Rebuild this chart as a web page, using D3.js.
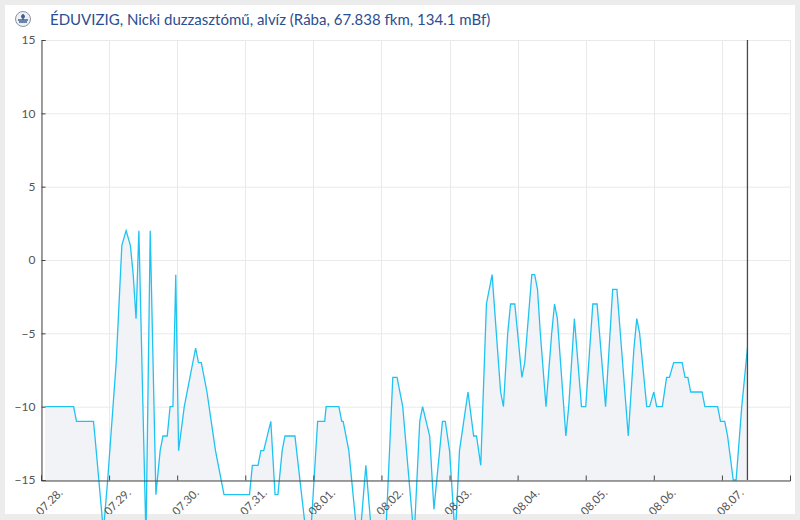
<!DOCTYPE html>
<html>
  <head>
    <meta charset="utf-8">
    <title>Nicki duzzasztómű, alvíz</title>
    <script src="https://cdn.jsdelivr.net/npm/d3@7"></script>
    <style>
      body { margin: 0; background: #ececec; font-family: Lato, "Open Sans", sans-serif; }
      svg { display: block; }
    </style>
  </head>

  <body>
    <svg id="chart"></svg>

    <script>
      // water level readings (cm)
      var times = [
        "07.28. 01:30", "07.28. 11:30", "07.28. 12:30", "07.28. 18:30", "07.28. 19:00", "07.28. 22:00", "07.28. 23:30",
        "07.29. 02:30", "07.29. 04:30", "07.29. 06:00", "07.29. 07:30", "07.29. 08:30", "07.29. 09:30", "07.29. 10:30",
        "07.29. 13:00", "07.29. 14:30", "07.29. 16:30", "07.29. 18:00", "07.29. 19:00", "07.29. 20:30", "07.29. 21:30",
        "07.29. 22:30", "07.29. 23:30",
        "07.30. 00:30", "07.30. 02:30", "07.30. 04:30", "07.30. 06:30", "07.30. 07:30", "07.30. 08:30", "07.30. 10:30",
        "07.30. 12:00", "07.30. 13:30", "07.30. 15:00", "07.30. 16:30",
        "07.31. 01:30", "07.31. 02:30", "07.31. 04:30", "07.31. 05:30", "07.31. 06:30", "07.31. 09:00", "07.31. 10:30",
        "07.31. 11:30", "07.31. 13:00", "07.31. 14:00", "07.31. 17:30", "07.31. 22:30",
        "08.01. 01:30", "08.01. 04:00", "08.01. 04:30", "08.01. 09:00", "08.01. 10:00", "08.01. 10:30", "08.01. 12:30",
        "08.01. 16:00", "08.01. 18:30", "08.01. 21:30",
        "08.02. 01:00", "08.02. 04:00", "08.02. 05:30", "08.02. 07:30", "08.02. 11:30", "08.02. 13:30", "08.02. 14:30",
        "08.02. 17:00", "08.02. 18:30", "08.02. 21:30", "08.02. 22:30",
        "08.03. 00:00", "08.03. 02:00", "08.03. 03:30", "08.03. 05:00", "08.03. 06:30", "08.03. 08:30", "08.03. 09:30",
        "08.03. 11:00", "08.03. 13:00", "08.03. 15:00", "08.03. 16:30", "08.03. 18:00", "08.03. 19:00", "08.03. 20:30",
        "08.03. 21:30", "08.03. 23:00",
        "08.04. 01:30", "08.04. 02:30", "08.04. 05:00", "08.04. 06:00", "08.04. 07:00", "08.04. 08:00", "08.04. 10:00",
        "08.04. 12:00", "08.04. 13:00", "08.04. 14:00", "08.04. 17:00", "08.04. 18:00", "08.04. 20:00", "08.04. 22:30",
        "08.05. 00:00", "08.05. 02:30", "08.05. 04:00", "08.05. 07:00", "08.05. 09:30", "08.05. 11:00", "08.05. 15:00",
        "08.05. 17:00", "08.05. 18:00", "08.05. 19:00", "08.05. 21:30", "08.05. 22:30",
        "08.06. 00:00", "08.06. 01:00", "08.06. 03:00", "08.06. 04:30", "08.06. 05:30", "08.06. 07:00", "08.06. 10:00",
        "08.06. 11:00", "08.06. 12:00", "08.06. 13:00", "08.06. 17:00", "08.06. 18:00", "08.06. 22:30", "08.06. 23:30",
        "08.07. 01:00", "08.07. 02:00", "08.07. 04:00", "08.07. 05:00", "08.07. 07:00", "08.07. 09:00"
      ];
      var levels = [
        -10, -10, -11, -11, -12, -18.5, -15,
        -7, 1, 2, 1, -1, -4, 2, -19, 2, -16, -13, -12, -12, -10, -10, -1,
        -13, -10, -8, -6, -7, -7, -9, -11, -13, -14.5, -16,
        -16, -14, -14, -13, -13, -11, -16, -16, -13, -12, -12, -20.5,
        -11, -11, -10, -10, -11, -11, -13, -20, -14, -21,
        -21, -8, -8, -10, -19, -11, -10, -12, -17, -11, -11,
        -13, -19, -13, -11, -9, -12, -12, -14, -3, -1, -5, -9, -10, -5, -3, -3,
        -8, -7, -1, -1, -2, -5, -10, -5, -3, -4, -12, -10, -4, -10,
        -10, -3, -3, -10, -2, -2, -12, -6, -4, -5, -10, -10,
        -9, -10, -10, -8, -8, -7, -7, -8, -8, -9, -9, -10, -10, -11,
        -11, -12, -15, -15, -10, -6
      ];
      var yTicks = [-15, -10, -5, 0, 5, 10, 15];
      var xStart = "07.28. 00:00", xEnd = "08.08. 00:00";
      var nowTime = "08.07. 09:00";
      var title = "ÉDUVIZIG, Nicki duzzasztómű, alvíz (Rába, 67.838 fkm, 134.1 mBf)";

      var W = 800, H = 520;
      var plotL = 41, plotR = 790, plotT = 40, plotB = 480;
      var parse = d3.timeParse("%m.%d. %H:%M");
      var data = times.map(function(t, i) { return { t: parse(t), v: levels[i] }; });

      var svg = d3.select("#chart").attr("width", W).attr("height", H);

      // white card
      svg.append("rect").attr("x", 5).attr("y", 5).attr("width", 790).attr("height", 509)
         .attr("fill", "#fff");
      svg.append("clipPath").attr("id", "card").append("rect")
         .attr("x", 5).attr("y", 5).attr("width", 790).attr("height", 509);

      // title with small emblem
      var logo = svg.append("g").attr("transform", "translate(23,19)");
      logo.append("circle").attr("r", 7.5).attr("fill", "#eef0f4").attr("stroke", "#8a93a6").attr("stroke-width", 1);
      logo.append("path").attr("d", "M-5,1 H5 M-4,3 H4 M0,-5 V1").attr("stroke", "#3f5e96").attr("stroke-width", 1.4);
      logo.append("circle").attr("cy", -2.5).attr("r", 2).attr("fill", "#3f5e96");
      svg.append("text").attr("x", 50).attr("y", 25)
         .attr("fill", "#2b4e92").attr("font-size", 15).text(title);

      var x = d3.scaleTime().domain([parse(xStart), parse(xEnd)]).range([plotL, plotR]);
      var y = d3.scaleLinear().domain([-15, 15]).range([plotB, plotT]);
      var days = d3.timeDay.range(parse(xStart), parse(xEnd));

      // grid
      var grid = svg.append("g").attr("stroke", "#e9e9e9").attr("stroke-width", 1);
      grid.selectAll("line.h").data(yTicks).enter().append("line")
          .attr("x1", plotL).attr("x2", plotR)
          .attr("y1", function(d) { return y(d) + 0.5; }).attr("y2", function(d) { return y(d) + 0.5; });
      grid.selectAll("line.v").data(days.concat([parse(xEnd)])).enter().append("line")
          .attr("y1", plotT).attr("y2", plotB)
          .attr("x1", function(d) { return Math.round(x(d)) + 0.5; })
          .attr("x2", function(d) { return Math.round(x(d)) + 0.5; });

      // area only inside the plot, line may run past it
      svg.append("clipPath").attr("id", "plot").append("rect")
         .attr("x", plotL).attr("y", plotT).attr("width", plotR - plotL).attr("height", plotB - plotT);

      var area = d3.area().x(function(d) { return x(d.t); })
                   .y0(y(-15)).y1(function(d) { return y(d.v); });
      svg.append("path").datum(data).attr("d", area)
         .attr("fill", "#f2f3f7").attr("clip-path", "url(#plot)");

      var line = d3.line().x(function(d) { return x(d.t); }).y(function(d) { return y(d.v); });
      svg.append("path").datum(data).attr("d", line)
         .attr("fill", "none").attr("stroke", "#1fc3f2").attr("stroke-width", 1.3);

      // now marker
      svg.append("line")
         .attr("x1", x(parse(nowTime))).attr("x2", x(parse(nowTime)))
         .attr("y1", plotT).attr("y2", plotB)
         .attr("stroke", "#4a4a4a").attr("stroke-width", 1.3);

      // axes, ticks point inwards
      var yAxis = svg.append("g").attr("transform", "translate(" + (plotL + 0.5) + ",0)")
        .call(d3.axisLeft(y).tickValues(yTicks).tickSize(-4).tickSizeOuter(-4).tickPadding(6));
      var xAxis = svg.append("g").attr("transform", "translate(0," + (plotB + 0.5) + ")")
        .call(d3.axisBottom(x).tickValues(days).tickSize(-5).tickSizeOuter(-5).tickFormat(d3.timeFormat("%m.%d.")));

      [yAxis, xAxis].forEach(function(a) {
        a.selectAll("path, line").attr("stroke", "#444");
        a.selectAll("text").attr("fill", "#555").attr("font-family", "Lato, sans-serif").attr("font-size", 12);
      });
      // rotated date labels, cut at the card edge like the original
      xAxis.selectAll(".tick text")
           .attr("font-size", 11.5)
           .attr("text-anchor", "end").attr("dy", null).attr("y", null)
           .attr("transform", "translate(22,13) rotate(-45)");
      svg.append("g").attr("clip-path", "url(#card)").node().appendChild(xAxis.node());
    </script>
  </body>
</html>
